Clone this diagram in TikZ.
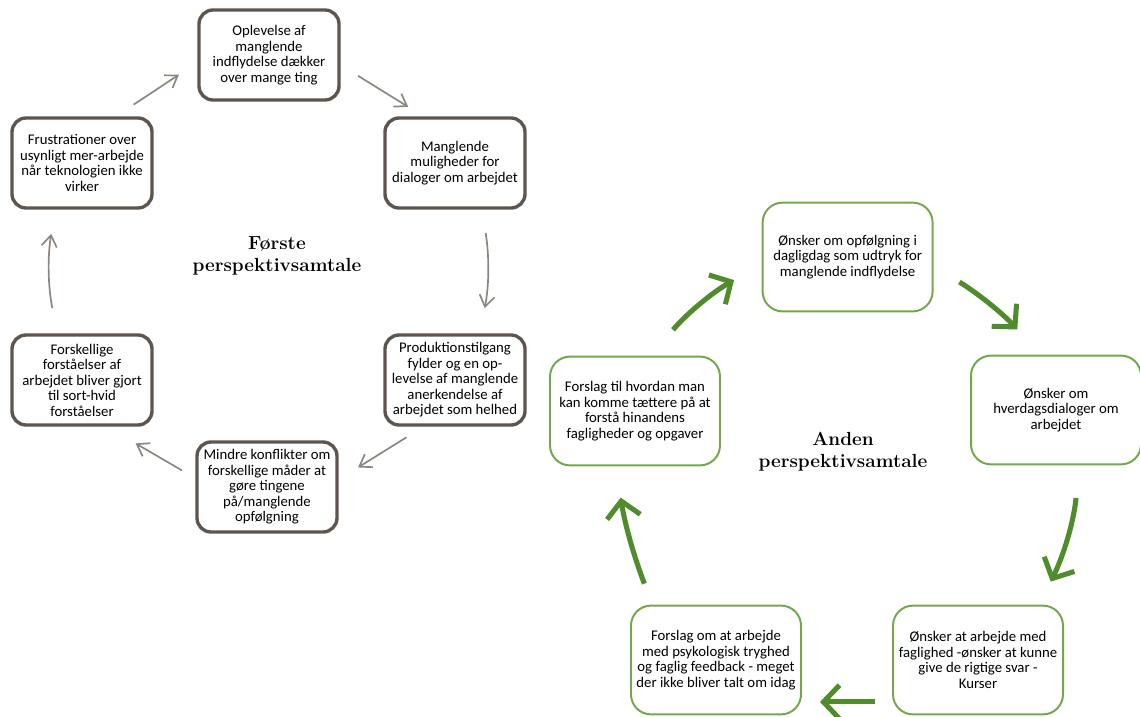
\documentclass[tikz,border=0pt]{standalone}
\usepackage{fontspec}
\newfontfamily\boksfont{Carlito}
\usetikzlibrary{arrows.meta}
\definecolor{brungraa}{RGB}{94,86,78}
\definecolor{lysgraa}{RGB}{140,134,127}
\definecolor{kantgroen}{RGB}{114,168,74}
\definecolor{pilgroen}{RGB}{80,140,44}
\tikzset{
  lbox/.style={draw=brungraa, line width=2.4pt, rounded corners=0.35cm, minimum width=3.5cm, minimum height=2.25cm, align=center, inner sep=1pt, font=\boksfont\fontsize{10.5}{11}\selectfont},
  gbox/.style={draw=kantgroen, line width=1.4pt, rounded corners=0.5cm, minimum width=4.25cm, minimum height=2.72cm, align=center, inner sep=1pt, font=\boksfont\fontsize{10.5}{11}\selectfont},
  larr/.style={draw=lysgraa, line width=1.2pt, -{Straight Barb[length=2.8mm,width=3.8mm]}},
  garr/.style={draw=pilgroen, line width=3.6pt, -{Straight Barb[length=4mm,width=8.4mm]}},
  titel/.style={align=center, font=\fontsize{13.5}{15.5}\selectfont\bfseries}
}

\begin{document}
\begin{tikzpicture}
		\useasboundingbox (0,0) rectangle (28.5,-17.9);
		% foerste perspektivsamtale
		\draw (6.725,-1.375) node[lbox] (oplev) {Oplevelse af\\manglende\\indflydelse dækker\\over mange ting};
		\draw (11.375,-4.075) node[lbox] (mangl) {Manglende\\muligheder for\\dialoger om arbejdet};
		\draw (11.375,-9.5) node[lbox] (prod) {Produktionstilgang\\fylder og en op-\\levelse af manglende\\anerkendelse af\\arbejdet som helhed};
		\draw (6.675,-12.175) node[lbox] (mindre) {Mindre konflikter om\\forskellige måder at\\gøre tingene\\på/manglende\\opfølgning};
		\draw (2.05,-9.5) node[lbox] (forsk) {Forskellige\\forståelser af\\arbejdet bliver gjort\\til sort-hvid\\forståelser};
		\draw (2.05,-4.075) node[lbox] (frust) {Frustrationer over\\usynligt mer-arbejde\\når teknologien ikke\\virker};
		\draw (6.925,-6.4) node[titel] (titel1) {Første\\perspektivsamtale};
		%
		\draw[larr, shorten <=0.53cm, shorten >=0.55cm] (frust.54) -- (oplev.186);
		\draw[larr, shorten <=0.51cm, shorten >=0.45cm] (oplev.-8) -- (mangl.124);
		\draw[larr, shorten <=0.59cm, shorten >=0.64cm] (mangl.-60) to[bend left=10] (prod.62);
		\draw[larr, shorten <=0.5cm, shorten >=0.57cm] (prod.236) -- (mindre.6);
		\draw[larr, shorten <=0.39cm, shorten >=0.83cm] (mindre.173) -- (forsk.-62);
		\draw[larr, shorten <=0.64cm, shorten >=0.61cm] (forsk.118) to[bend left=10] (frust.240);
		%
		% anden perspektivsamtale
		\draw (21.19,-6.425) node[gbox] (onsk1) {Ønsker om opfølgning i\\dagligdag som udtryk for\\manglende indflydelse};
		\draw (26.4,-10.25) node[gbox] (onsk2) {Ønsker om\\hverdagsdialoger om\\arbejdet};
		\draw (24.45,-16.5) node[gbox] (onsk3) {Ønsker at arbejde med\\faglighed -ønsker at kunne\\give de rigtige svar -\\Kurser};
		\draw (17.9,-16.5) node[gbox] (forsl2) {Forslag om at arbejde\\med psykologisk tryghed\\og faglig feedback - meget\\der ikke bliver talt om idag};
		\draw (15.875,-10.275) node[gbox] (forsl1) {Forslag til hvordan man\\kan komme tættere på at\\forstå hinandens\\fagligheder og opgaver};
		\draw (21.075,-11.29) node[titel] (titel2) {Anden\\perspektivsamtale};
		%
		\draw[garr, shorten <=0.85cm, shorten >=0.79cm] (forsl1.74) to[bend left=10] (onsk1.185);
		\draw[garr, shorten <=0.76cm, shorten >=0.85cm] (onsk1.-6) to[bend left=8] (onsk2.106);
		\draw[garr, shorten <=0.82cm, shorten >=0.64cm] (onsk2.-67) to[bend left=10] (onsk3.42);
		\draw[garr, shorten <=0.43cm, shorten >=0.45cm] (onsk3.206) -- (forsl2.-26);
		\draw[garr, shorten <=0.56cm, shorten >=0.79cm] (forsl2.139) to[bend left=6] (forsl1.251);
	\end{tikzpicture}
\end{document}
